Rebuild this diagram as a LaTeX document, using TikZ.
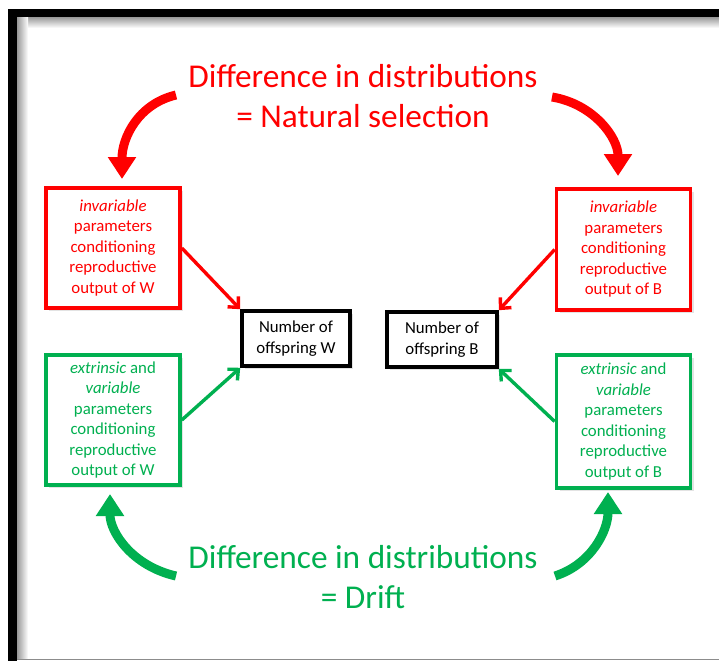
\documentclass[tikz,border=0pt]{standalone}
\usepackage{fontspec}
\setmainfont{Carlito}
\usetikzlibrary{arrows.meta,shadows}
\definecolor{selred}{RGB}{255,0,0}
\definecolor{driftgreen}{RGB}{0,176,80}

\begin{document}
\begin{tikzpicture}[x=1pt,y=-1pt,
  box/.style={draw,line width=3.6pt,inner sep=0pt,align=center,fill=white,
    font=\fontsize{16.8}{20.5}\selectfont,
    drop shadow={opacity=0.22,shadow xshift=3pt,shadow yshift=-3pt}},
  redbox/.style={box,draw=selred,text=selred,minimum width=134pt},
  greenbox/.style={box,draw=driftgreen,text=driftgreen,minimum width=134pt},
  countbox/.style={box,draw=black,text=black,minimum height=55pt},
  headline/.style={align=center,font=\fontsize{33.3}{40}\selectfont},
  bigarrow/.style={line width=9pt,-{Triangle[length=22pt,width=27pt]}},
  thinarrow/.style={line width=3.4pt,-{Straight Barb[length=8pt,width=15pt]}}
]
\useasboundingbox (0,0) rectangle (719,661);
\fill[white] (0,0) rectangle (719,661);

% frame: black edges with a soft inner shadow, grey rule at the foot
\shade[top color=black!40,bottom color=white] (17,17) rectangle (719,28);
\shade[left color=black!40,right color=white] (17,17) rectangle (28,659);
\fill[black] (8,9) rectangle (719,17);
\fill[black] (8,9) rectangle (17,661);
\draw[black!45,line width=1.5pt] (17,659.5) -- (719,659.5);

% headings
\node[headline,text=selred] (ns) at (363,96) {Difference in distributions\\= Natural selection};
\node[headline,text=driftgreen] (dr) at (363,577) {Difference in distributions\\= Drift};

% parameter boxes
\node[redbox,minimum height=120pt] (rW) at (113,248)
  {\textit{invariable}\\parameters\\conditioning\\reproductive\\output of W};
\node[redbox,minimum height=121pt] (rB) at (623.5,249.5)
  {\textit{invariable}\\parameters\\conditioning\\reproductive\\output of B};
\node[greenbox,minimum height=130pt] (gW) at (113,420)
  {\textit{extrinsic} and\\\textit{variable}\\parameters\\conditioning\\reproductive\\output of W};
\node[greenbox,minimum height=133pt] (gB) at (623.5,421.5)
  {\textit{extrinsic} and\\\textit{variable}\\parameters\\conditioning\\reproductive\\output of B};

% offspring counts
\node[countbox,minimum width=108pt] (nW) at (296,338.5) {Number of\\offspring W};
\node[countbox,minimum width=110pt] (nB) at (442,339.5) {Number of\\offspring B};

% straight connectors
\draw[thinarrow,selred] (rW.east) -- (nW.north west);
\draw[thinarrow,driftgreen] (gW.east) -- (nW.south west);
\draw[thinarrow,selred] (rB.west) -- (nB.north east);
\draw[thinarrow,driftgreen] (gB.west) -- (nB.south east);

% curved arrows from the headings
\coordinate (rl0) at (176,95);  \coordinate (rl1) at (122,179);
\coordinate (rr0) at (552,97);  \coordinate (rr1) at (618,176);
\coordinate (gl0) at (176,576); \coordinate (gl1) at (110,494);
\coordinate (gr0) at (555,576); \coordinate (gr1) at (608,492);
\draw[bigarrow,selred] (rl0) .. controls (138,104) and (122,138) .. (rl1);
\draw[bigarrow,selred] (rr0) .. controls (594,104) and (618,138) .. (rr1);
\draw[bigarrow,driftgreen] (gl0) .. controls (132,566) and (110,532) .. (gl1);
\draw[bigarrow,driftgreen] (gr0) .. controls (592,564) and (608,530) .. (gr1);
\end{tikzpicture}
\end{document}
